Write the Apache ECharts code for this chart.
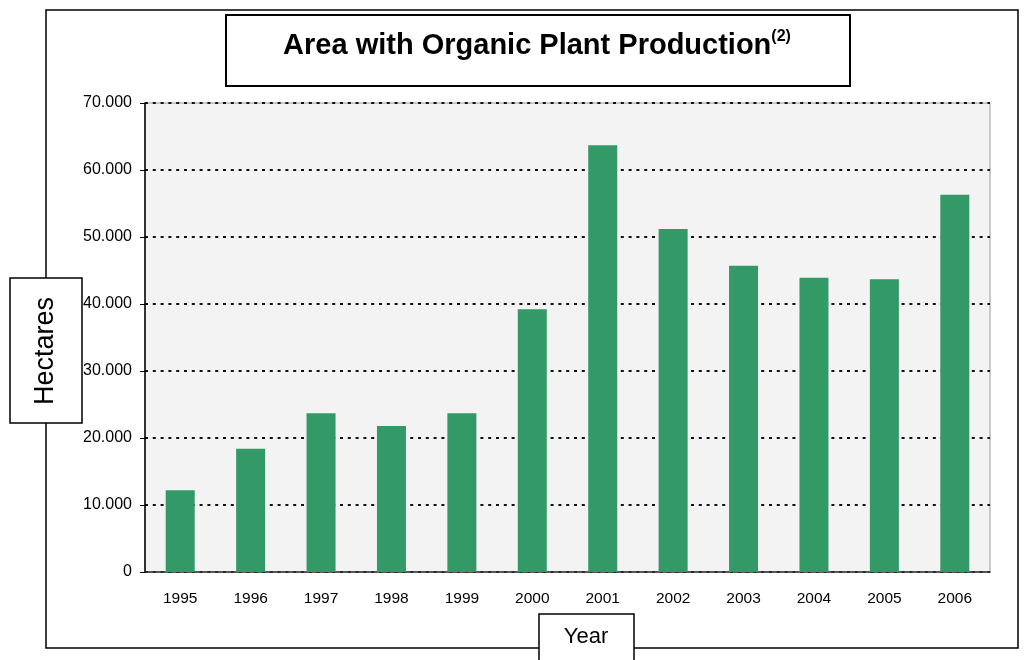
<!DOCTYPE html>
<html style="height: 100%">
    <head>
        <meta charset="utf-8">
    </head>
    <body style="height: 100%; margin: 0; background: #fff">
        <div id="container" style="width:1026px; height:660px"></div>

        <script type="text/javascript" src="https://cdn.jsdelivr.net/npm/echarts@6.0.0/dist/echarts.min.js"></script>

        <script type="text/javascript">
// data
var years = ['1995', '1996', '1997', '1998', '1999', '2000', '2001', '2002', '2003', '2004', '2005', '2006'];
var hectares = [12200, 18400, 23700, 21800, 23700, 39200, 63700, 51200, 45700, 43900, 43700, 56300];
var yTicks = [0, 10000, 20000, 30000, 40000, 50000, 60000, 70000];

var dom = document.getElementById("container");
var myChart = echarts.init(dom);
var font = 'Liberation Sans, Arial, sans-serif';

// 10000 -> "10.000"
function fmt(v) {
    if (v === 0) return '0';
    return String(v).replace(/\B(?=(\d{3})+(?!\d))/g, '.');
}

var option = {
    animation: false,
    grid: {
        left: 145, top: 103, width: 845, height: 469,
        show: true,
        backgroundColor: '#f3f3f3',
        borderColor: '#9a9a9a',
        borderWidth: 1
    },
    xAxis: {
        type: 'category',
        data: years,
        axisLine: { lineStyle: { color: '#333', width: 1.5 } },
        axisTick: { length: 5, lineStyle: { color: '#333' } },
        axisLabel: { color: '#000', fontFamily: font, fontSize: 15.5, margin: 19 }
    },
    yAxis: {
        type: 'value',
        min: yTicks[0],
        max: yTicks[yTicks.length - 1],
        interval: 10000,
        axisLine: { show: true, lineStyle: { color: '#000', width: 1.5 } },
        axisTick: { show: true, length: 5, lineStyle: { color: '#000' } },
        axisLabel: { color: '#000', fontFamily: font, fontSize: 16, margin: 13, formatter: fmt },
        splitLine: { lineStyle: { color: '#111', width: 2, type: [3, 4.8] } }
    },
    series: [{
        type: 'bar',
        data: hectares,
        barWidth: 29,
        itemStyle: { color: '#339966' }
    }],
    graphic: [
        { type: 'rect', z: -1, shape: { x: 46, y: 10, width: 972, height: 638 },
          style: { fill: 'none', stroke: '#000', lineWidth: 1.5 } },
        { type: 'rect', z: 10, shape: { x: 226, y: 15, width: 624, height: 71 },
          style: { fill: '#fff', stroke: '#000', lineWidth: 2 } },
        { type: 'text', z: 11, x: 537, y: 46,
          style: {
              text: '{a|Area with Organic Plant Production}{s|(2)}',
              align: 'center', verticalAlign: 'middle',
              rich: {
                  a: { fontFamily: font, fontSize: 29, fontWeight: 'bold', fill: '#000', lineHeight: 34 },
                  s: { fontFamily: font, fontSize: 16, fontWeight: 'bold', fill: '#000', lineHeight: 20, verticalAlign: 'top' }
              }
          } },
        { type: 'rect', z: 10, shape: { x: 10, y: 278, width: 72, height: 145 },
          style: { fill: '#fff', stroke: '#000', lineWidth: 1.5 } },
        { type: 'text', z: 11, x: 46, y: 351, rotation: Math.PI / 2,
          style: { text: 'Hectares', fontFamily: font, fontSize: 27, fill: '#000',
                   align: 'center', verticalAlign: 'middle' } },
        { type: 'rect', z: 10, shape: { x: 539, y: 614, width: 95, height: 60 },
          style: { fill: '#fff', stroke: '#000', lineWidth: 1.5 } },
        { type: 'text', z: 11, x: 586, y: 637,
          style: { text: 'Year', fontFamily: font, fontSize: 22, fill: '#000',
                   align: 'center', verticalAlign: 'middle' } }
    ]
};

myChart.setOption(option);
        </script>
    </body>
</html>
